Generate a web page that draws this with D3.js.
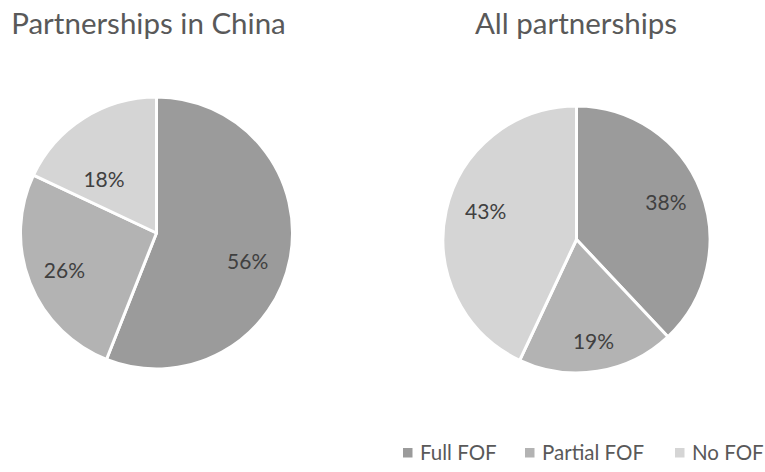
<!DOCTYPE html>
<html>
<head>
<meta charset="utf-8">
<script src="https://cdn.jsdelivr.net/npm/d3@7"></script>
<style>
  html, body { margin: 0; padding: 0; background: #fff; }
  svg { display: block; font-family: Lato, "Open Sans", sans-serif; }
</style>
</head>
<body>
<svg id="chart" width="765" height="472"></svg>
<script>
// Share of partnerships by FOF type
const categories = ["Full FOF", "Partial FOF", "No FOF"];
const chinaValues = [56, 26, 18];
const allValues = [38, 19, 43];
const titles = ["Partnerships in China", "All partnerships"];
const colors = ["#9b9b9b", "#b3b3b3", "#d5d5d5"];

const svg = d3.select("#chart");
const color = d3.scaleOrdinal().domain(categories).range(colors);

// Layout of each pie; labelNudge shifts each value label from its arc centroid
const pies = [
  { title: titles[0], values: chinaValues, cx: 156.5, cy: 233, r: 136, tx: 148.5,
    labelNudge: [[-5, 10], [-1, 1], [0, 29]] },
  { title: titles[1], values: allValues, cx: 576.5, cy: 239.5, r: 133.5, tx: 576,
    labelNudge: [[0, -2], [2, 7], [3, -7]] }
];

const pie = d3.pie().sort(null).value(d => d.value);

pies.forEach(p => {
  const data = categories.map((c, i) => ({ category: c, value: p.values[i], i }));
  const arcs = pie(data);
  const arc = d3.arc().innerRadius(0).outerRadius(p.r);
  const labelArc = d3.arc().innerRadius(p.r * 0.72).outerRadius(p.r * 0.72);

  svg.append("text")
    .attr("x", p.tx)
    .attr("y", 34)
    .attr("text-anchor", "middle")
    .attr("fill", "#595959")
    .attr("font-size", 29.5)
    .text(p.title);

  const g = svg.append("g").attr("transform", `translate(${p.cx},${p.cy})`);

  g.selectAll("path")
    .data(arcs)
    .join("path")
    .attr("d", arc)
    .attr("fill", d => color(d.data.category))
    .attr("stroke", "#fff")
    .attr("stroke-width", 3)
    .attr("stroke-linejoin", "round");

  g.selectAll("text")
    .data(arcs)
    .join("text")
    .attr("transform", d => {
      const [x, y] = labelArc.centroid(d);
      const [nx, ny] = p.labelNudge[d.data.i];
      return `translate(${x + nx},${y + ny})`;
    })
    .attr("text-anchor", "middle")
    .attr("dy", "0.36em")
    .attr("fill", "#404040")
    .attr("font-size", 21)
    .text(d => d.data.value + "%");
});

// Legend along the bottom right
const legendX = [403, 525, 675];
const legend = svg.append("g");
categories.forEach((c, i) => {
  legend.append("rect")
    .attr("x", legendX[i])
    .attr("y", 448)
    .attr("width", 9.5)
    .attr("height", 9.5)
    .attr("fill", color(c));
  legend.append("text")
    .attr("x", legendX[i] + 17)
    .attr("y", 460)
    .attr("fill", "#595959")
    .attr("font-size", 20.5)
    .text(c);
});
</script>
</body>
</html>
